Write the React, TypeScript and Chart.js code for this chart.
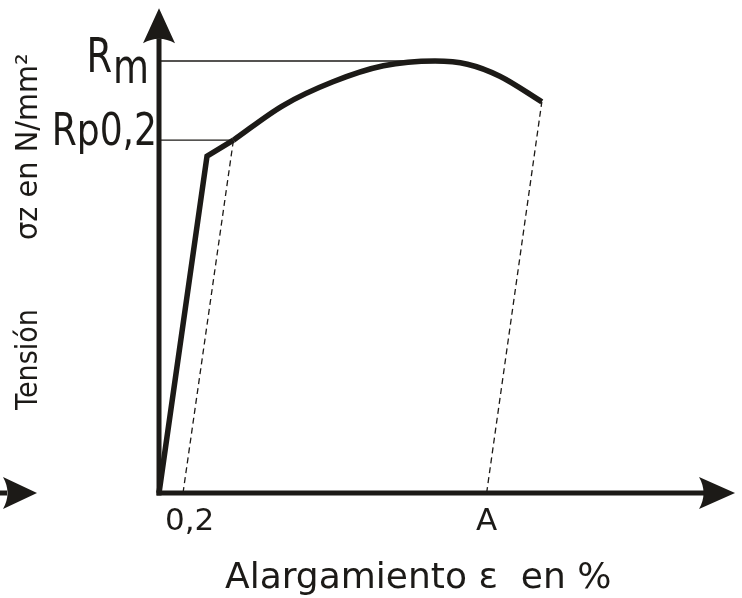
import React, { useEffect, useRef } from "react";
import { Chart, registerables } from "chart.js";

Chart.register(...registerables);

// ---- data (strain in %, stress in N/mm², schematic) ----
const strainElastic = [0, 0.4, 0.62];
const stressElastic = [0, 421, 441];
const strainPlastic = [0.62, 1.03, 1.45, 1.87, 2.3, 2.57, 2.84, 3.19];
const stressPlastic = [441, 484, 514, 534, 540, 536, 521, 489];

const offsetStrain = 0.2; // 0,2 %
const elongationA = 2.73; // A
const Rp02 = 441;
const Rm = 540;
const RmStrain = 2.3;
const RpStrain = 0.62;
const breakStrain = 3.19;
const breakStress = 489;

const xTickValues = [offsetStrain, elongationA];
const xTickLabels = ["0,2", "A"];
const yTickValues = [Rp02, Rm];
const yTickLabels = ["Rp0,2", "Rm"];

const xAxisEnd = 4.8;
const yAxisEnd = 606;

const xTitle = "Alargamiento ε  en %";
const yTitleA = "Tensión";
const yTitleB = "σz en N/mm²";

const INK = "#1c1a17";
const FONT = "'DejaVu Sans', sans-serif";

const pts = (xs: number[], ys: number[]) => xs.map((x, i) => ({ x, y: ys[i] }));

const decorPlugin = {
  id: "decor",
  beforeDatasetsDraw(chart: any) {
    const ctx = chart.ctx as CanvasRenderingContext2D;
    const xs = chart.scales.x;
    const ys = chart.scales.y;
    const ox = xs.getPixelForValue(0);
    const oy = ys.getPixelForValue(0);
    const xe = xs.getPixelForValue(xAxisEnd);
    const ye = ys.getPixelForValue(yAxisEnd);
    ctx.save();
    ctx.strokeStyle = INK;
    ctx.fillStyle = INK;
    ctx.lineWidth = 5;
    ctx.lineCap = "butt";
    // y axis
    ctx.beginPath();
    ctx.moveTo(ox, oy + 2.5);
    ctx.lineTo(ox, ye + 30);
    ctx.stroke();
    // x axis
    ctx.beginPath();
    ctx.moveTo(ox - 2.5, oy);
    ctx.lineTo(xe - 30, oy);
    ctx.stroke();
    // y arrow head
    ctx.beginPath();
    ctx.moveTo(ox, ye);
    ctx.lineTo(ox + 16, ye + 35);
    ctx.quadraticCurveTo(ox, ye + 26, ox - 16, ye + 35);
    ctx.closePath();
    ctx.fill();
    // x arrow head
    ctx.beginPath();
    ctx.moveTo(xe, oy);
    ctx.lineTo(xe - 36, oy - 16);
    ctx.quadraticCurveTo(xe - 27, oy, xe - 36, oy + 16);
    ctx.closePath();
    ctx.fill();
    // partial arrow at left edge (from neighbouring figure)
    const lt = 37;
    ctx.beginPath();
    ctx.moveTo(0, oy);
    ctx.lineTo(lt - 30, oy);
    ctx.stroke();
    ctx.beginPath();
    ctx.moveTo(lt, oy);
    ctx.lineTo(lt - 34, oy - 16);
    ctx.quadraticCurveTo(lt - 25, oy, lt - 34, oy + 16);
    ctx.closePath();
    ctx.fill();
    ctx.restore();
  },
  afterDraw(chart: any) {
    const ctx = chart.ctx as CanvasRenderingContext2D;
    const xs = chart.scales.x;
    const ys = chart.scales.y;
    const ox = xs.getPixelForValue(0);
    const oy = ys.getPixelForValue(0);
    ctx.save();
    ctx.fillStyle = INK;
    ctx.textBaseline = "alphabetic";

    // x tick labels
    ctx.font = `31px ${FONT}`;
    ctx.textAlign = "center";
    xTickLabels.forEach((lab, i) => {
      const w = ctx.measureText(lab).width;
      const px = Math.max(xs.getPixelForValue(xTickValues[i]), ox + 6 + w / 2);
      ctx.fillText(lab, px, oy + 37);
    });

    // y tick labels (Rp0,2 and Rm)
    yTickLabels.forEach((lab, i) => {
      const py = ys.getPixelForValue(yTickValues[i]);
      ctx.save();
      if (lab === "Rm") {
        ctx.font = `48px ${FONT}`;
        ctx.translate(ox - 10, py);
        ctx.scale(0.77, 1);
        ctx.textAlign = "right";
        ctx.fillText("m", 0, 22);
        const mw = ctx.measureText("m").width;
        ctx.fillText("R", -mw - 1, 11);
      } else {
        ctx.font = `44px ${FONT}`;
        ctx.translate(ox - 2, py);
        ctx.scale(0.82, 1);
        ctx.textAlign = "right";
        ctx.fillText(lab, 0, 5);
      }
      ctx.restore();
    });

    // x title
    ctx.font = `36px ${FONT}`;
    ctx.textAlign = "left";
    ctx.fillText(xTitle, ox + 66, oy + 95);

    // y title (rotated)
    ctx.font = `30px ${FONT}`;
    ctx.save();
    ctx.translate(37, oy - 83);
    ctx.rotate(-Math.PI / 2);
    ctx.scale(0.9, 1);
    ctx.textAlign = "left";
    ctx.fillText(yTitleA, 0, 0);
    ctx.restore();
    ctx.save();
    ctx.translate(37, oy - 253);
    ctx.rotate(-Math.PI / 2);
    ctx.scale(0.96, 1);
    ctx.textAlign = "left";
    ctx.fillText(yTitleB, 0, 0);
    ctx.restore();

    ctx.restore();
  },
};

export default function App() {
  const ref = useRef<HTMLCanvasElement>(null);
  useEffect(() => {
    if (!ref.current) return;
    const thin = { borderColor: INK, borderWidth: 1.3, pointRadius: 0, showLine: true, fill: false };
    const chart = new Chart(ref.current, {
      type: "scatter",
      data: {
        datasets: [
          { ...thin, data: [{ x: 0, y: Rm }, { x: RmStrain, y: Rm }] },
          { ...thin, data: [{ x: 0, y: Rp02 }, { x: RpStrain, y: Rp02 }] },
          { ...thin, borderDash: [6, 4], data: [{ x: offsetStrain, y: 0 }, { x: RpStrain, y: Rp02 }] },
          { ...thin, borderDash: [6, 4], data: [{ x: elongationA, y: 0 }, { x: breakStrain, y: breakStress }] },
          {
            data: pts(strainElastic, stressElastic),
            showLine: true,
            borderColor: INK,
            borderWidth: 5.5,
            pointRadius: 0,
            tension: 0,
            borderJoinStyle: "miter",
            borderCapStyle: "butt",
          },
          {
            data: pts(strainPlastic, stressPlastic),
            showLine: true,
            borderColor: INK,
            borderWidth: 5.5,
            pointRadius: 0,
            cubicInterpolationMode: "monotone",
            borderCapStyle: "butt",
          },
        ],
      } as any,
      options: {
        animation: false,
        responsive: false,
        devicePixelRatio: 1,
        layout: { padding: 0 },
        events: [],
        plugins: { legend: { display: false }, tooltip: { enabled: false }, title: { display: false } },
        scales: {
          x: { type: "linear", min: -1.325, max: 4.858, display: false },
          y: { type: "linear", min: -131.25, max: 616.25, display: false },
        },
      } as any,
      plugins: [decorPlugin],
    });
    return () => chart.destroy();
  }, []);
  return (
    <div style={{ position: "absolute", left: 0, top: 0, width: 742, height: 598, background: "#fff" }}>
      <canvas ref={ref} width={742} height={598} style={{ display: "block" }} />
    </div>
  );
}
